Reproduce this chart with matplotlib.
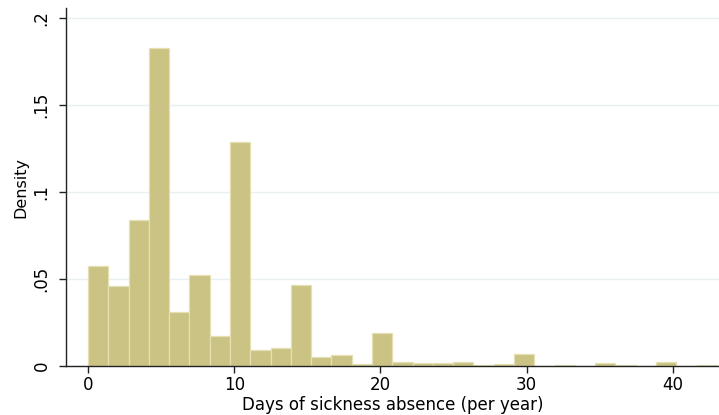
#!/usr/bin/env python3
# coding: utf-8

import numpy as np
import matplotlib
matplotlib.use("Agg")
import matplotlib.pyplot as plt

# histogram: 31 bins from 0 to 43 days
bin_start = 0.0
bin_end = 43.0
densities = [0.0577, 0.0460, 0.0838, 0.1828, 0.0309, 0.0522, 0.0171, 0.1289,
             0.0090, 0.0105, 0.0466, 0.0050, 0.0065, 0.0012, 0.0188, 0.0025,
             0.0019, 0.0019, 0.0025, 0.0004, 0.0012, 0.0071, 0.0, 0.0004,
             0.0, 0.0015, 0.0004, 0.0, 0.0025, 0.0, 0.0004]
x_ticks = [0, 10, 20, 30, 40]
y_ticks = [0, 0.05, 0.1, 0.15, 0.2]
y_ticklabels = ["0", ".05", ".1", ".15", ".2"]
x_title = "Days of sickness absence (per year)"
y_title = "Density"


def main():
    plt.rcParams['font.family'] = ['DejaVu Sans']

    fig = plt.figure(figsize=(7.19, 4.15), dpi=100)
    ax = fig.add_axes([0.0918, 0.1181, 0.9082, 0.8619])

    edges = np.linspace(bin_start, bin_end, len(densities) + 1)
    width = edges[1] - edges[0]
    ax.bar(edges[:-1], densities, width=width, align='edge',
           color='#cac383', edgecolor='#e4e0b4', linewidth=0.9, zorder=2)

    ax.set_xlim(-1.5, 43.15)
    ax.set_ylim(0, 0.2058)

    ax.set_yticks(y_ticks)
    ax.set_yticklabels(y_ticklabels, rotation=90, va='center')
    ax.set_xticks(x_ticks)
    ax.grid(axis='y', color='#e8f0f2', linewidth=1.0, zorder=0)
    ax.set_axisbelow(True)

    for side in ('top', 'right'):
        ax.spines[side].set_visible(False)
    for side in ('left', 'bottom'):
        ax.spines[side].set_color('#222222')
        ax.spines[side].set_linewidth(1.0)

    ax.tick_params(axis='both', direction='out', length=5, width=1.0,
                   color='#222222', labelsize=12, labelcolor='black')
    ax.tick_params(axis='x', pad=2)
    ax.tick_params(axis='y', pad=6)

    ax.set_xlabel(x_title, fontsize=12, labelpad=2)
    ax.set_ylabel(y_title, fontsize=11.5, labelpad=3)

    fig.savefig("out.png", dpi=100)


if __name__ == '__main__':
    main()
